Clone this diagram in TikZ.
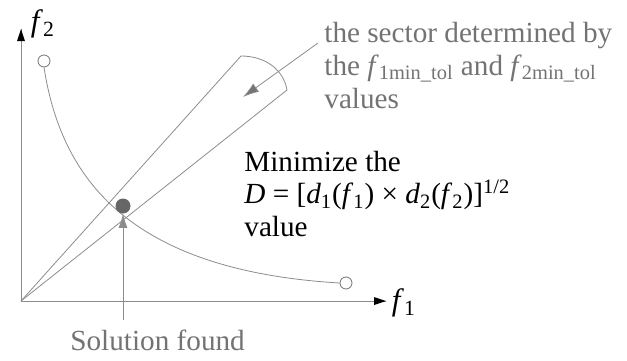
\documentclass[tikz,border=0pt]{standalone}
\usepackage{fontspec}
\setmainfont{Liberation Serif}
\usepackage{xcolor}
\usetikzlibrary{arrows.meta,positioning}

\begin{document}
\begin{tikzpicture}[x=0.5pt, y=0.5pt,
    thinline/.style={draw=black!45, line width=0.4pt},
    endpt/.style={circle, draw=black!55, fill=white, line width=0.4pt, inner sep=0pt, minimum size=6pt},
    sol/.style={circle, fill=black!60, inner sep=0pt, minimum size=7.5pt},
    txt/.style={font=\fontsize{14.6}{16.4}\selectfont, align=left, inner sep=0pt},
    note/.style={txt, text=black!55},
    pointer/.style={thinline, -{Latex[length=7pt, width=4.5pt]}}
]
\useasboundingbox (0,0) rectangle (627,360);

% axes
\coordinate (O) at (21,59);
\coordinate (ytip) at (21,331);
\coordinate (xtip) at (386,59);
\draw[thinline] (O) -- (ytip);
\draw[thinline] (O) -- (xtip);
\fill[black] (ytip) -- ++(-4,-12) -- ++(8,0) -- cycle;
\fill[black] (xtip) -- ++(-12,4) -- ++(0,-8) -- cycle;
\node[txt, font=\fontsize{15.5}{16}\selectfont] (f2) at (43,336) {\textit{f}\textsubscript{2}};
\node[txt, font=\fontsize{15.5}{16}\selectfont] (f1) at (404,57) {\textit{f}\textsubscript{1}};

% sector
\coordinate (U) at (241,304);
\coordinate (L) at (287,270);
\draw[thinline] (O) -- (U);
\draw[thinline] (O) -- (L);
\draw[thinline] (U) to[out=0, in=100] (L);

% front of solutions
\node[endpt] (c1) at (44,299) {};
\node[endpt] (c2) at (346,77) {};
\draw[thinline] (c1.south) .. controls (60,190) and (120,90) .. (c2.west);

\node[sol] (dot) at (123,154) {};

% labels
\node[note, anchor=north west] (sector) at (324,338)
  {the sector determined by\\
   the \textit{f}\textsubscript{1min\_tol} and \textit{f}\textsubscript{2min\_tol}\\
   values};
\coordinate (sectortail) at (318,317);
\coordinate (sectortip) at (243,263);
\draw[pointer, -{Latex[length=8pt, width=5pt, fill=black!55]}] (sectortail) -- (sectortip);

\node[txt, anchor=west] (goal) at (244,166)
  {Minimize the\\
   \textit{D} = [\textit{d}\textsubscript{1}(\textit{f}\textsubscript{1}) × \textit{d}\textsubscript{2}(\textit{f}\textsubscript{2})]\textsuperscript{1/2}\\
   value};

\node[note, anchor=west] (found) at (70,20) {Solution found};
\coordinate (foundtop) at (dot |- 0,40);
\draw[pointer] (foundtop) -- (dot.south);
\end{tikzpicture}
\end{document}
